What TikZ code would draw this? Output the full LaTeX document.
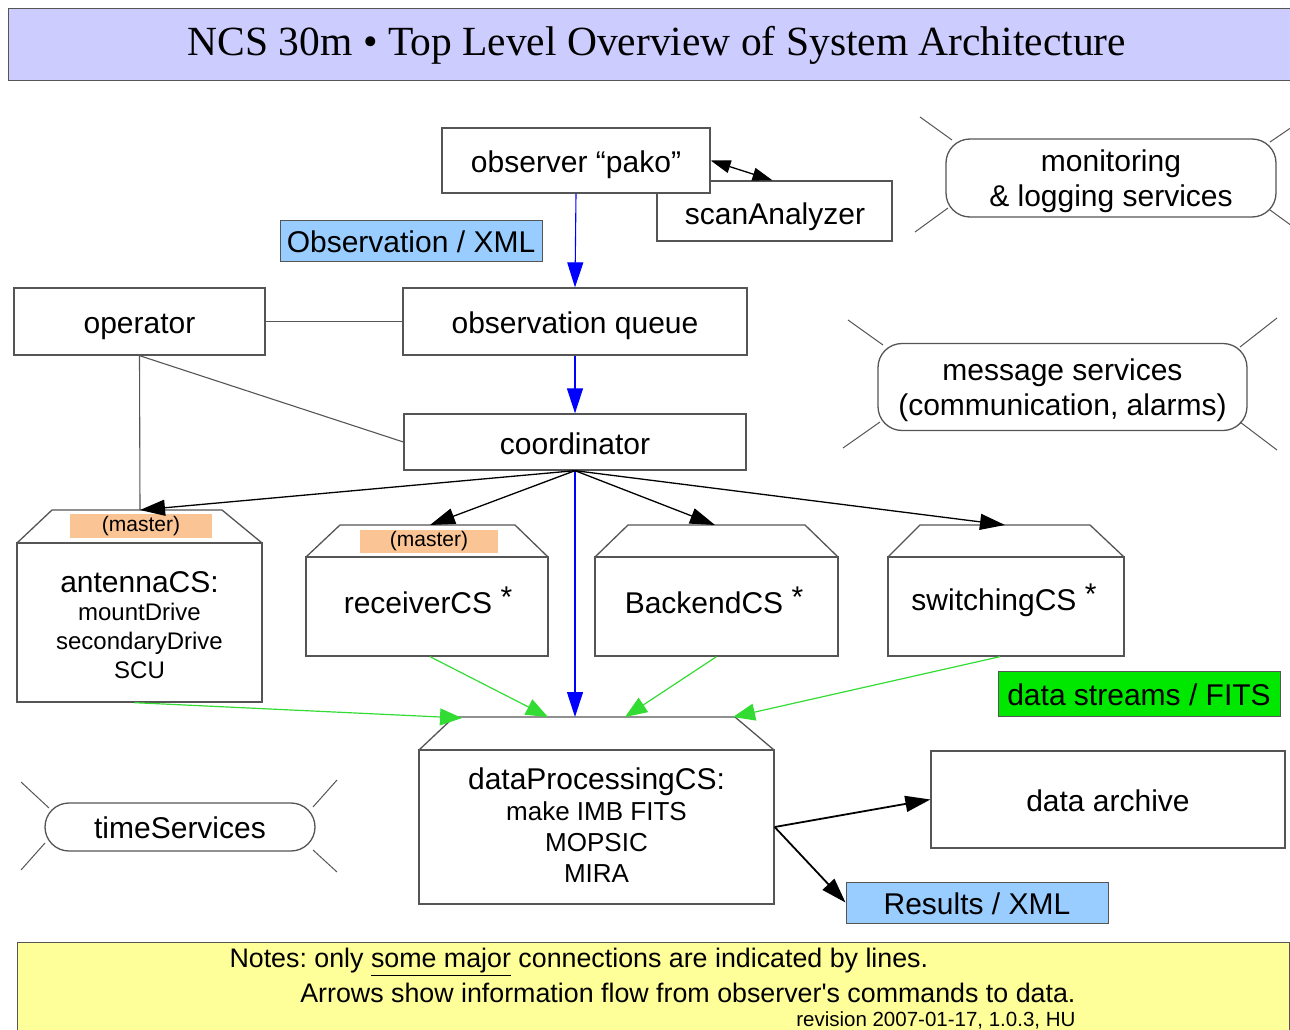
\documentclass[tikz,border=0pt]{standalone}
\usepackage{fontspec}
\setmainfont{Liberation Sans}
\newfontfamily\titlefont{Liberation Serif}
\usetikzlibrary{arrows.meta}
\frenchspacing

\definecolor{titlefill}{RGB}{204,204,255}
\definecolor{xmlfill}{RGB}{153,204,255}
\definecolor{streamfill}{RGB}{0,232,0}
\definecolor{masterfill}{RGB}{250,196,148}
\definecolor{notefill}{RGB}{255,255,153}
\definecolor{flowgreen}{RGB}{50,220,50}
\definecolor{edge}{RGB}{85,85,85}

\tikzset{
	box/.style={draw=edge, line width=1.3pt, fill=white, inner sep=0pt, font=\fontsize{30}{34}\selectfont},
	label/.style={box, text height=24pt, text depth=0pt},
	service/.style={box, rounded corners=24pt, align=center, font=\fontsize{30}{35}\selectfont, text depth=0pt},
	master/.style={fill=masterfill, inner sep=0pt, font=\fontsize{21}{22}\selectfont},
	ray/.style={draw=edge, line width=1pt},
	cmd/.style={-{Triangle[length=25pt,width=16pt]}, line width=1.3pt},
	obs/.style={blue, -{Triangle[length=25pt,width=16pt]}, line width=1.1pt},
	data/.style={flowgreen, -{Triangle[length=22pt,width=17pt]}, line width=1.2pt},
}

\begin{document}
\begin{tikzpicture}[x=1pt,y=-1pt]
	\useasboundingbox (0,0) rectangle (1290,1030);
	
	% title and notes
	\node[box, fill=titlefill, minimum width=1290pt, minimum height=72pt, anchor=north west] (title) at (8,8) {};
	\node[font=\titlefont\fontsize{41.5}{44}\selectfont] (titletext) at (657,45) {NCS 30m • Top Level Overview of System Architecture};
	\node[box, fill=notefill, minimum width=1272pt, minimum height=110pt, anchor=north west] (notes) at (17,942) {};
	\node[anchor=west, font=\fontsize{26.8}{28}\selectfont] (note1) at (226,962) {Notes: only \underline{some major} connections are indicated by lines.};
	\node[anchor=east, font=\fontsize{26.8}{28}\selectfont] (note2) at (1079,993) {Arrows show information flow from observer\textquotesingle s commands to data.};
	\node[anchor=east, font=\fontsize{20.5}{22}\selectfont] (rev) at (1079,1020) {revision 2007-01-17, 1.0.3, HU};
	
	% top part
	\node[box, minimum width=235pt, minimum height=60pt] (scan) at (774.5,211) {};
	\node[font=\fontsize{30}{34}\selectfont, text height=24pt, text depth=0pt, inner sep=0pt] (scantext) at (775,212) {scanAnalyzer};
	\node[label, minimum width=268pt, minimum height=65pt] (observer) at (576,160.5) {observer “pako”};
	\node[label, fill=xmlfill, line width=1pt, minimum width=262pt, minimum height=41pt] (obsxml) at (411,240.5) {Observation / XML};
	\node[label, minimum width=251pt, minimum height=67pt] (operator) at (139.5,321.5) {operator};
	\node[label, minimum width=344pt, minimum height=67pt] (queue) at (575,321.5) {observation queue};
	\node[label, minimum width=342pt, minimum height=56pt] (coord) at (575,442) {coordinator};
	
	\node[service, minimum width=330pt, minimum height=78pt] (monitor) at (1111,178) {monitoring\\\& logging services};
	\node[service, minimum width=369pt, minimum height=87pt] (message) at (1062.5,387) {message services\\(communication, alarms)};
	\node[service, text height=23pt, minimum width=270pt, minimum height=48pt] (time) at (180,827) {timeServices};
	
	\draw[ray] (920,117)--(952,140) (915,232)--(948,208) (1270,142)--(1292,127) (1270,210)--(1292,226);
	\draw[ray] (848,320)--(883,345) (843,448)--(880,422) (1277,318)--(1240,347) (1240,422)--(1277,450);
	\draw[ray] (21,782)--(49,808) (21,870)--(45,843) (337,780)--(313,807) (313,850)--(337,872);
	
	% control systems
	\draw[box] (17,543)--(52,510)--(222,510)--(262,543);
	\draw[box] (306,557)--(340,525)--(515,525)--(548,557);
	\draw[box] (595,557)--(628,525)--(805,525)--(838,557);
	\draw[box] (888,557)--(920,525)--(1090,525)--(1124,557);
	\draw[box] (419,750)--(454,717)--(735,717)--(774,750);
	\coordinate (antennatop) at (140,510);
	\coordinate (receivertop) at (430,525);
	\coordinate (backendtop) at (715,525);
	\coordinate (switchtop) at (1005,525);
	\coordinate (dptop) at (575,717);
	\node[master, minimum width=142pt, minimum height=24pt] (master1) at (141,526) {(master)};
	\node[master, minimum width=138pt, minimum height=23pt] (master2) at (429,541.5) {(master)};
	
	\node[box, minimum width=245pt, minimum height=159pt] (antenna) at (139.5,622.5) {};
	\node[align=center, font=\fontsize{24}{29}\selectfont] (antennatext) at (139.5,625) {{\fontsize{30}{34}\selectfont antennaCS:}\\[-1pt]mountDrive\\secondaryDrive\\SCU};
	\node[box, minimum width=242pt, minimum height=99pt] (receiver) at (427,606.5) {};
	\node[font=\fontsize{30}{34}\selectfont] (receivertext) at (428,600) {receiverCS \raisebox{6pt}{*}};
	\node[box, minimum width=243pt, minimum height=99pt] (backend) at (716.5,606.5) {};
	\node[font=\fontsize{30}{34}\selectfont] (backendtext) at (714,600) {BackendCS \raisebox{6pt}{*}};
	\node[box, minimum width=236pt, minimum height=99pt] (switching) at (1006,606.5) {};
	\node[font=\fontsize{30}{34}\selectfont] (switchingtext) at (1004,600) {switchingCS \raisebox{6pt}{*}};
	
	\node[box, minimum width=355pt, minimum height=154pt] (dp) at (596.5,827) {};
	\node[align=center, font=\fontsize{26}{31}\selectfont] (dptext) at (596.5,825) {{\fontsize{30}{33}\selectfont dataProcessingCS:}\\make IMB FITS\\MOPSIC\\MIRA};
	\node[label, fill=streamfill, line width=1pt, minimum width=282pt, minimum height=45pt] (streams) at (1139,693.5) {data streams / FITS};
	\node[label, minimum width=354pt, minimum height=97pt] (archive) at (1108,799.5) {data archive};
	\node[label, fill=xmlfill, line width=1pt, minimum width=262pt, minimum height=41pt] (results) at (977,902.5) {Results / XML};
	
	% connections
	\draw[{Triangle[length=20pt,width=13pt]}-{Triangle[length=20pt,width=13pt]}, line width=1.3pt] (observer.east) -- ([xshift=-2pt]scan.north);
	\draw[obs] (observer.south) -- (queue.north);
	\draw[obs] (queue.south) -- (coord.north);
	\draw[obs] (coord.south) -- (dptop);
	\draw[line width=1.1pt, edge] (operator.east) -- (queue.west);
	\draw[line width=1.1pt, edge] (operator.south) -- (coord.west);
	\draw[line width=1.1pt, edge] (operator.south) -- (antennatop);
	
	\draw[cmd] (coord.south) -- (antennatop);
	\draw[cmd] (coord.south) -- (receivertop);
	\draw[cmd] (coord.south) -- (backendtop);
	\draw[cmd] (coord.south) -- (switchtop);
	
	\draw[data] ([xshift=-5pt]antenna.south) -- (462,718);
	\draw[data] ([xshift=3pt]receiver.south) -- (548,717);
	\draw[data] (backend.south) -- (625,717);
	\draw[data] ([xshift=-6pt]switching.south) -- (733,717);
	
	\draw[cmd, line width=1.8pt] (dp.east) -- (archive.west);
	\draw[cmd, line width=1.8pt] (dp.east) -- (results.west);
\end{tikzpicture}
\end{document}
